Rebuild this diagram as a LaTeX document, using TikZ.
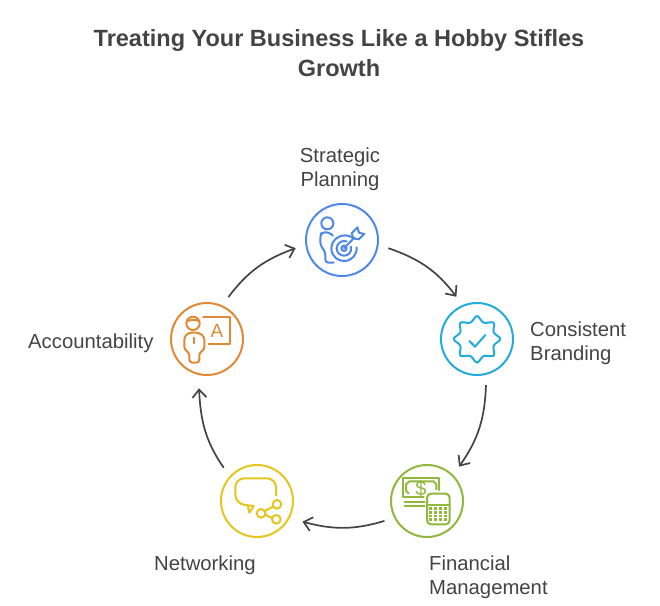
\documentclass[tikz,border=0pt]{standalone}
\usepackage{fontspec}
\setmainfont{Liberation Sans}
\usetikzlibrary{arrows.meta}
\definecolor{txt}{HTML}{444444}
\definecolor{cblue}{HTML}{4F88E8}
\definecolor{ccyan}{HTML}{22ABDB}
\definecolor{cgreen}{HTML}{8FB83C}
\definecolor{cyel}{HTML}{E3C61E}
\definecolor{corg}{HTML}{E08A38}
\tikzset{
  ring/.style={circle,draw=#1,line width=2pt,minimum size=72pt,inner sep=0pt,outer sep=11pt},
  lab/.style={text=txt,font=\fontsize{20.3}{24}\selectfont,inner sep=0pt},
  labl/.style={lab,align=left,anchor=west},
  flow/.style={draw=txt,line width=1.7pt,-{Straight Barb[length=8pt,width=14pt,line width=1.7pt]}},
  ico/.style={line width=2pt,draw=#1,line join=round,line cap=round},
  zoomed/.style={x=0.33333pt,y=-0.33333pt}
}
\begin{document}
\begin{tikzpicture}[x=1pt,y=1pt]
\useasboundingbox (0,0) rectangle (660,-605);
\fill[white] (0,0) rectangle (660,-605);
\node[text=txt,align=center,inner sep=0pt,font=\fontsize{23.5}{30}\selectfont\bfseries] (title) at (339,-53) {Treating Your Business Like a Hobby Stifles\\Growth};
\node[ring=cblue] (s) at (342,-240) {};
\node[ring=ccyan] (c) at (477,-339) {};
\node[ring=cgreen] (f) at (427,-501) {};
\node[ring=cyel] (n) at (257,-501) {};
\node[ring=corg] (a) at (207,-339) {};
\node[lab,align=center] (ls) at (340,-169.5) {Strategic\\Planning};
\node[labl] (lc) at (530,-343.5) {Consistent\\Branding};
\node[labl] (lf) at (429,-577.5) {Financial\\Management};
\node[labl] (ln) at (154,-565.5) {Networking};
\node[labl] (la) at (28,-343.5) {Accountability};
\draw[flow] (s.-10) to[out=-19,in=127] (c.116);
\draw[flow] (c.-79) to[out=-92,in=55] (f.47);
\draw[flow,shorten >=3pt] (f.205) to[out=-163,in=-15] (n.-25);
\draw[flow,shorten >=3pt] (n.135) to[out=125,in=273] (a.-100);
\draw[flow] (a.63) to[out=53,in=200] (s.190);
% Strategic icon
\begin{scope}[shift={(295,-195)},zoomed,ico=cblue]
\draw (97,85) circle[radius=18];
\draw[rounded corners=3pt] (114,122) -- (102,112) -- (80,112) -- (76,122) -- (76,150) -- (91,172) -- (91,203) -- (116,203);
\draw (172,128) .. controls (150,112) and (110,125) .. (109,160) .. controls (109,185) and (130,198) .. (147,198) .. controls (170,198) and (186,180) .. (185,157);
\draw (155,139) .. controls (140,134) and (125,145) .. (125,160) .. controls (125,173) and (136,182) .. (147,182) .. controls (160,182) and (171,172) .. (168,155);
\draw (147,160) circle[radius=8];
\draw (147,160) -- (178,128);
\draw (170,115) -- (187,97) -- (192,113) -- (208,117) -- (191,133) -- (175,130) -- cycle;
\end{scope}
% Branding icon
\begin{scope}[shift={(432,-295)},zoomed,ico=ccyan]
\draw plot[smooth cycle,tension=0.55] coordinates {
(135,63) (155,83) (185,83) (185,112) (205,132) (185,152) (185,182) (155,183) (135,203) (115,183) (85,182) (85,152) (65,132) (85,112) (85,83) (115,83)};
\draw (112,138) -- (129,155) -- (160,120);
\end{scope}
% Financial icon
\begin{scope}[shift={(382,-456)},zoomed,ico=cgreen]
\draw (125,124) -- (63,124) -- (63,67) -- (172,67) -- (172,102);
\draw (80,112) -- (72,104) -- (72,85) -- (82,76) -- (155,76) -- (163,85) -- (163,100);
\node[text=cgreen,draw=none,inner sep=0pt,font=\fontsize{20}{20}\selectfont] (dollar) at (117,97) {\$};
\draw (68,137) -- (128,137);
\draw (68,150) -- (128,150);
\draw[rounded corners=4pt] (135,113) rectangle (203,205);
\draw (135,146) -- (203,146);
\foreach \i in {0,1,2,3}{\foreach \j in {0,1,2,3}{
  \fill[cgreen] (146+15*\i-5,158+11*\j-4) rectangle (146+15*\i+5,158+11*\j+4);
}}
\end{scope}
% Networking icon
\begin{scope}[shift={(212,-456)},zoomed,ico=cyel]
\draw[rounded corners=9pt] (192,118) -- (192,67) -- (70,67) -- (70,143) -- (125,150);
\draw (125,150) -- (112,170) -- (108,152);
\draw (147,172) circle[radius=13];
\draw (195,145) circle[radius=13];
\draw (193,190) circle[radius=13];
\draw (158,165) -- (183,152);
\draw (160,177) -- (180,185);
\end{scope}
% Accountability icon
\begin{scope}[shift={(162,-295)},zoomed,ico=corg]
\draw (93,85) circle[radius=20];
\draw (75,79) .. controls (85,74) and (100,72) .. (112,79);
\draw[rounded corners=3pt] (67,165) -- (67,125) -- (80,113) -- (110,113) -- (127,125) -- (127,165) -- (112,172) -- (112,203) -- (82,203) -- (82,172) -- cycle;
\draw (95,128) -- (95,145);
\draw (123,67) -- (205,67) -- (205,148) -- (140,148);
\node[text=corg,draw=none,inner sep=0pt,font=\fontsize{19}{19}\selectfont] (letter) at (165,107) {A};
\end{scope}
\end{tikzpicture}
\end{document}
